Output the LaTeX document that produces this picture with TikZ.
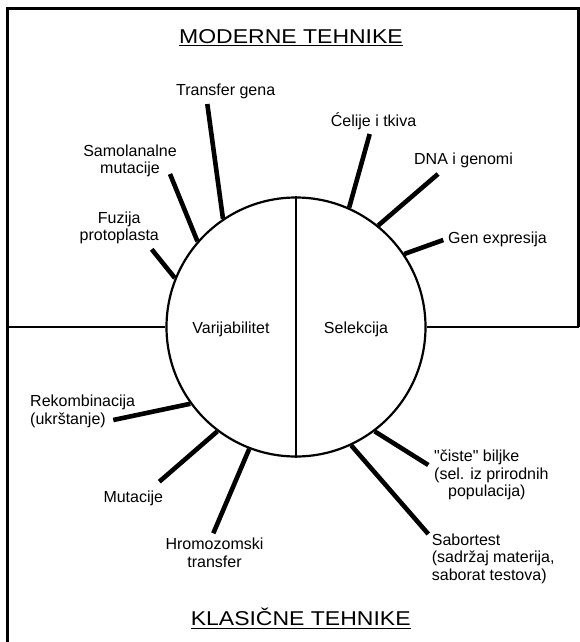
\documentclass[tikz,border=0pt]{standalone}
\usepackage{fontspec}
\setmainfont{Liberation Sans}
\begin{document}
\begin{tikzpicture}[x=1pt,y=-1pt,
  lbl/.style={font=\fontsize{16}{17.6}\selectfont, inner sep=0pt, anchor=base, align=center},
  lbll/.style={lbl, anchor=base west, align=left},
  ttl/.style={font=\fontsize{20}{24}\selectfont, inner sep=0pt, anchor=base},
  spoke/.style={line width=4.6pt},
  frame/.style={line width=3pt, line join=miter},
  divider/.style={line width=2pt}]
\useasboundingbox (0,0) rectangle (579,642);

% frame
\draw[frame] (7,650) -- (7,9) -- (578,9) -- (578,327);

% circle
\node[circle, draw, line width=2.2pt, minimum size=259pt, inner sep=0pt] (circ) at (296,327) {};
\draw[divider] (7,327) -- (circ.west);
\draw[divider] (circ.east) -- (579,327);
\draw[divider] (circ.north) -- (circ.south);

% titles
\node[ttl] (tmod) at (291,43.3) {\scalebox{1.15}[1]{MODERNE TEHNIKE}};
\draw[line width=1.2pt] ([yshift=-2.6pt]tmod.base west) -- ([yshift=-2.6pt]tmod.base east);
\node[ttl] (tkla) at (300.7,625) {\scalebox{1.15}[1]{KLASIČNE TEHNIKE}};
\draw[line width=1.2pt] ([yshift=-3.2pt]tkla.base west) -- ([yshift=-3.2pt]tkla.base east);

% inner labels
\node[lbl] (var) at (231,333.3) {Varijabilitet};
\node[lbl] (sel) at (356,333.3) {Selekcija};

% upper labels (base anchor = baseline of the last line)
\node[lbl] (ltransfer) at (225.7,95) {Transfer gena};
\node[lbl] (lcelije) at (373.5,126) {Ćelije i tkiva};
\node[lbl] (lsamo) at (130,173.6) {Samolanalne\\mutacije};
\node[lbl] (ldna) at (463.5,164) {DNA i genomi};
\node[lbl] (lfuz) at (119.3,240.9) {Fuzija\\protoplasta};
\node[lbll] (lgen) at (448,243.3) {Gen expresija};

% lower labels
\node[lbll] (lrek) at (30,424.5) {Rekombinacija\\(ukrštanje)};
\node[lbl] (lmut) at (133.3,502.7) {Mutacije};
\node[lbl] (lhro) at (214.5,567.5) {Hromozomski\\transfer};
\node[lbll] (lcis) at (434,496.9) {\textquotedbl čiste\textquotedbl{} biljke\\(sel. iz prirodnih\\\hspace*{14pt}populacija)};
\node[lbll] (lsab) at (431.7,580.2) {Sabortest\\(sadržaj materija,\\saborat testova)};

% spoke ends
\coordinate (stransfer) at (207.3,104);
\coordinate (ssamo) at (170,174);
\coordinate (sfuz) at (151.7,249.3);
\coordinate (scelije) at (369.7,134);
\coordinate (sdna) at (438,174);
\coordinate (sgen) at (443.3,240);
\coordinate (srek) at (113.3,420);
\coordinate (smut) at (159.3,481.7);
\coordinate (shro) at (213.3,533.3);
\coordinate (scis) at (428.3,465);
\coordinate (ssab) at (428.3,534);

% spokes
\draw[spoke] (stransfer) -- (circ.124.1);
\draw[spoke] (ssamo) -- (circ.139.5);
\draw[spoke] (sfuz) -- (circ.158.1);
\draw[spoke] (scelije) -- (circ.66.9);
\draw[spoke] (sdna) -- (circ.51.05);
\draw[spoke] (sgen) -- (circ.34.3);
\draw[spoke] (srek) -- (circ.216.4);
\draw[spoke] (smut) -- (circ.233.8);
\draw[spoke] (shro) -- (circ.249.6);
\draw[spoke] (scis) -- (circ.307.7);
\draw[spoke] (ssab) -- (circ.295.4);
\end{tikzpicture}
\end{document}
